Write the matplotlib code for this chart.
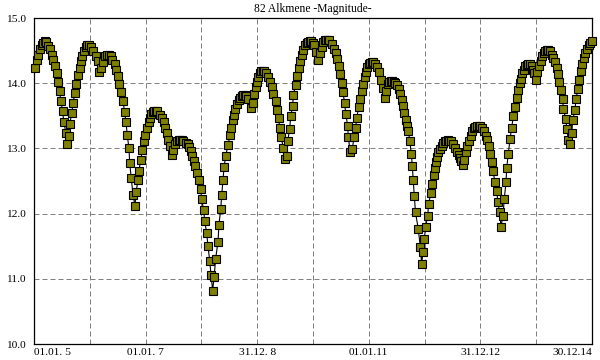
import numpy as np
import matplotlib
matplotlib.use('Agg')
import matplotlib.pyplot as plt

# time in years since 01.01.2005, magnitude
t_years = [
    0.013, 0.048, 0.077, 0.108, 0.138, 0.167, 0.194, 0.220, 0.256, 0.287, 0.317, 0.346,
    0.371, 0.407, 0.430, 0.461, 0.478, 0.514, 0.532, 0.573, 0.591, 0.627, 0.640, 0.681,
    0.699, 0.735, 0.758, 0.789, 0.819, 0.837, 0.866, 0.896, 0.927, 0.955, 0.986,
    1.021, 1.057, 1.106, 1.142, 1.165, 1.201, 1.237, 1.278, 1.308, 1.339, 1.371, 1.403,
    1.452, 1.470, 1.505, 1.529, 1.559, 1.595, 1.622, 1.649, 1.672, 1.702, 1.715, 1.744,
    1.774, 1.810, 1.828, 1.864, 1.876, 1.918, 1.935, 1.971, 1.995,
    2.025, 2.056, 2.079, 2.102, 2.133, 2.159, 2.186, 2.213, 2.258, 2.294, 2.330, 2.348,
    2.383, 2.407, 2.432, 2.468, 2.491, 2.527, 2.568, 2.595, 2.622, 2.649, 2.676, 2.724,
    2.760, 2.783, 2.808, 2.837, 2.862, 2.891, 2.916, 2.957, 2.987,
    3.005, 3.041, 3.059, 3.095, 3.118, 3.149, 3.172, 3.202, 3.226, 3.256, 3.297, 3.315,
    3.346, 3.364, 3.387, 3.405, 3.437, 3.477, 3.513, 3.530, 3.561, 3.590, 3.607, 3.638,
    3.668, 3.697, 3.724, 3.751, 3.778, 3.805, 3.835, 3.883, 3.919, 3.943, 3.973, 3.991,
    4.020, 4.047, 4.073, 4.100, 4.127, 4.154, 4.199, 4.229, 4.260, 4.288, 4.331, 4.355,
    4.385, 4.403, 4.432, 4.468, 4.498, 4.534, 4.547, 4.582, 4.600, 4.636, 4.647, 4.690,
    4.708, 4.744, 4.767, 4.797, 4.826, 4.862, 4.889, 4.916, 4.943, 4.969, 4.996,
    5.023, 5.054, 5.095, 5.120, 5.156, 5.185, 5.211, 5.238, 5.265, 5.292, 5.335, 5.371,
    5.407, 5.425, 5.460, 5.478, 5.514, 5.532, 5.568, 5.586, 5.622, 5.632, 5.668, 5.704,
    5.735, 5.765, 5.783, 5.819, 5.837, 5.878, 5.901, 5.932, 5.955, 5.973,
    6.000, 6.027, 6.054, 6.081, 6.108, 6.147, 6.183, 6.224, 6.249, 6.285, 6.308, 6.339,
    6.367, 6.394, 6.421, 6.448, 6.475, 6.511, 6.541, 6.564, 6.590, 6.613, 6.636, 6.661,
    6.685, 6.711, 6.735, 6.762, 6.780, 6.797, 6.815, 6.837, 6.887, 6.923, 6.948, 6.971, 6.994,
    7.020, 7.055, 7.073, 7.109, 7.127, 7.163, 7.181, 7.199, 7.217, 7.245, 7.270, 7.306,
    7.335, 7.362, 7.389, 7.416, 7.443, 7.470, 7.514, 7.545, 7.586, 7.610, 7.634, 7.659,
    7.683, 7.706, 7.742, 7.765, 7.796, 7.826, 7.855, 7.885, 7.912, 7.939, 7.966, 7.993,
    8.023, 8.064, 8.095, 8.124, 8.149, 8.177, 8.202, 8.231, 8.256, 8.297, 8.310, 8.346,
    8.369, 8.405, 8.428, 8.459, 8.471, 8.500, 8.530, 8.561, 8.590, 8.614, 8.650, 8.668,
    8.704, 8.722, 8.751, 8.781, 8.808, 8.835, 8.862, 8.889, 8.916, 8.948, 8.966, 8.996,
    9.019, 9.055, 9.080, 9.109, 9.136, 9.163, 9.190, 9.217, 9.244, 9.278, 9.306, 9.337,
    9.367, 9.385, 9.414, 9.439, 9.475, 9.486, 9.529, 9.552, 9.575, 9.601, 9.637, 9.654,
    9.695, 9.713, 9.749, 9.772, 9.797, 9.826, 9.851, 9.880, 9.910, 9.941, 9.969, 9.996,
]

magnitude = [
    14.23, 14.35, 14.44, 14.52, 14.58, 14.62, 14.64, 14.63, 14.57, 14.52, 14.44, 14.36,
    14.27, 14.15, 14.02, 13.88, 13.73, 13.58, 13.41, 13.24, 13.06, 13.19, 13.38, 13.55,
    13.70, 13.85, 13.99, 14.13, 14.23, 14.34, 14.41, 14.49, 14.55, 14.58, 14.58,
    14.55, 14.50, 14.42, 14.34, 14.17, 14.24, 14.33, 14.41, 14.43, 14.43, 14.41, 14.36,
    14.29, 14.21, 14.11, 13.99, 13.87, 13.73, 13.56, 13.40, 13.20, 13.00, 12.77, 12.54,
    12.29, 12.12, 12.33, 12.51, 12.66, 12.82, 12.97, 13.11, 13.21,
    13.32, 13.40, 13.47, 13.53, 13.56, 13.58, 13.58, 13.57, 13.51, 13.46, 13.40, 13.32,
    13.23, 13.13, 13.03, 12.90, 12.97, 13.06, 13.12, 13.13, 13.13, 13.13, 13.12, 13.09,
    13.06, 13.02, 12.96, 12.89, 12.81, 12.73, 12.63, 12.51, 12.38,
    12.22, 12.05, 11.89, 11.70, 11.50, 11.28, 11.06, 10.82, 11.02, 11.31, 11.57, 11.83,
    12.07, 12.29, 12.51, 12.71, 12.89, 13.05, 13.20, 13.32, 13.43, 13.51, 13.61, 13.68,
    13.74, 13.78, 13.81, 13.82, 13.82, 13.80, 13.76, 13.62, 13.70, 13.84, 13.94, 14.02,
    14.10, 14.15, 14.18, 14.19, 14.18, 14.15, 14.10, 14.02, 13.94, 13.84, 13.72, 13.59,
    13.46, 13.32, 13.17, 13.00, 12.83, 12.89, 13.11, 13.30, 13.49, 13.65, 13.82, 13.98,
    14.11, 14.23, 14.34, 14.43, 14.51, 14.58, 14.61, 14.63, 14.64, 14.64, 14.62,
    14.58, 14.48, 14.36, 14.46, 14.55, 14.63, 14.66, 14.67, 14.67, 14.66, 14.60, 14.53,
    14.47, 14.37, 14.27, 14.14, 14.01, 13.87, 13.70, 13.53, 13.35, 13.17, 12.95, 12.99,
    13.17, 13.32, 13.47, 13.63, 13.76, 13.88, 13.99, 14.09, 14.17, 14.25,
    14.29, 14.31, 14.32, 14.32, 14.30, 14.25, 14.17, 14.05, 13.92, 13.78, 13.88, 13.99,
    14.02, 14.03, 14.03, 14.02, 14.00, 13.97, 13.91, 13.83, 13.74, 13.65, 13.55, 13.43,
    13.35, 13.27, 13.11, 12.92, 12.73, 12.51, 12.27, 12.02, 11.76, 11.49, 11.23, 11.41, 11.61,
    11.80, 11.97, 12.15, 12.31, 12.46, 12.59, 12.70, 12.79, 12.87, 12.94, 12.99, 13.04,
    13.08, 13.11, 13.12, 13.13, 13.12, 13.11, 13.06, 13.01, 12.94, 12.90, 12.85, 12.80,
    12.75, 12.82, 12.94, 13.03, 13.12, 13.19, 13.27, 13.31, 13.33, 13.35, 13.35, 13.34,
    13.32, 13.26, 13.19, 13.13, 13.03, 12.92, 12.79, 12.65, 12.49, 12.34, 12.18, 12.02,
    11.80, 11.97, 12.23, 12.48, 12.70, 12.92, 13.14, 13.32, 13.49, 13.64, 13.78, 13.90,
    14.00, 14.07, 14.15, 14.21, 14.26, 14.28, 14.29, 14.29, 14.26, 14.21, 14.15, 14.05,
    14.17, 14.27, 14.34, 14.41, 14.46, 14.49, 14.51, 14.51, 14.49, 14.44, 14.39, 14.33,
    14.24, 14.14, 14.02, 13.89, 13.76, 13.61, 13.45, 13.29, 13.13, 13.06, 13.24, 13.43,
    13.59, 13.76, 13.91, 14.05, 14.18, 14.29, 14.38, 14.46, 14.53, 14.58, 14.62, 14.64,
]

year_ticks = list(range(2005, 2016))
tick_labels = ['01.01. 5', '', '01.01. 7', '', '31.12. 8', '', '01.01.11', '',
               '31.12.12', '', '30.12.14']
mag_ticks = [10.0, 11.0, 12.0, 13.0, 14.0, 15.0]

plt.rcParams['font.family'] = ['Liberation Serif', 'DejaVu Serif']
plt.rcParams['font.size'] = 8.2

dates = 2005 + np.array(t_years)

fig = plt.figure(figsize=(6, 3.6), dpi=100)
ax = fig.add_axes([34 / 600, 1 - 344 / 360, 558 / 600, 326 / 360])

ax.plot(dates, magnitude, color='black', lw=0.8, marker='s', markersize=5.6,
        markerfacecolor='#808000', markeredgecolor='black', markeredgewidth=0.8,
        clip_on=False, zorder=3)

ax.set_xlim(2005, 2015)
ax.set_ylim(10, 15)
ax.set_xticks(year_ticks)
ax.set_xticklabels(tick_labels)
ax.set_yticks(mag_ticks)
ax.set_yticklabels(['%.1f' % v for v in mag_ticks])
labels = ax.get_xticklabels()
labels[0].set_horizontalalignment('left')
labels[-1].set_horizontalalignment('right')
ax.tick_params(length=0, pad=3)
ax.tick_params(axis='y', pad=6)

ax.grid(True, color='#808080', lw=0.72, linestyle=(0, (5, 3)))
ax.set_axisbelow(True)
for s in ax.spines.values():
    s.set_linewidth(0.9)
    s.set_color('black')

ax.set_title('82 Alkmene -Magnitude-', fontsize=8.4, pad=4)

fig.savefig('out.png', dpi=100)
